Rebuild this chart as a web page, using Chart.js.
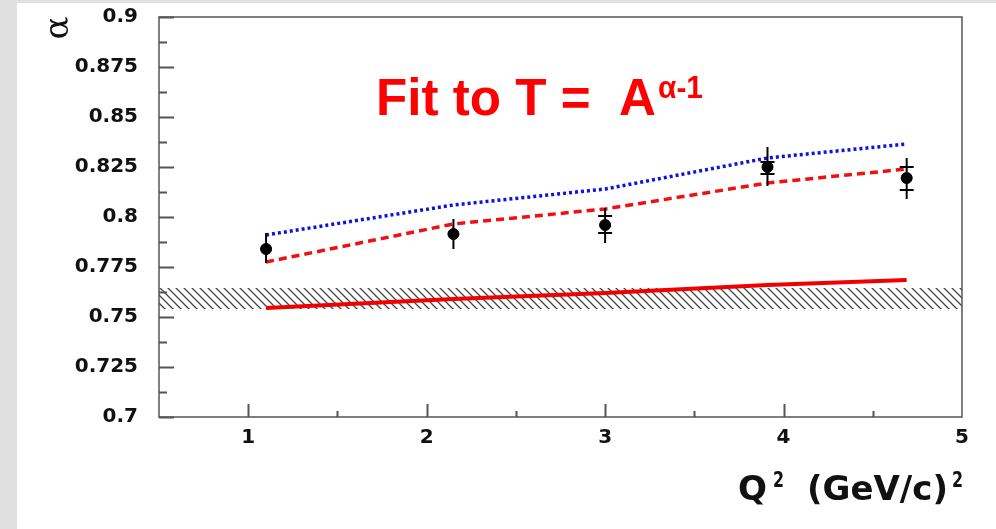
<!DOCTYPE html>
<html>
<head>
<meta charset="utf-8">
<script src="https://cdn.jsdelivr.net/npm/chart.js@4"></script>
<style>
  body { margin: 0; background: #fff; }
  #wrap { width: 996px; height: 529px; }
</style>
</head>
<body>
<div id="wrap"><canvas id="myChart" width="996" height="529"></canvas></div>
<script>
// Q^2 values (GeV/c)^2
const qsq = [1.1, 2.15, 3.0, 3.91, 4.69]
// measured alpha with stat errors
const alphaVals = [0.784, 0.7915, 0.796, 0.825, 0.8195]
const errLow = [0.777, 0.784, 0.787, 0.8155, 0.809]
const errHigh = [0.792, 0.799, 0.8045, 0.835, 0.8295]
// systematic markers (small caps)
const sysLow = [null, null, 0.792, 0.8215, 0.8135]
const sysHigh = [null, null, 0.8005, 0.8275, 0.825]
// model curves
const blueDotted = [0.791, 0.806, 0.814, 0.8295, 0.8365]
const redDashed = [0.7775, 0.7965, 0.804, 0.817, 0.824]
const redSolid = [0.7545, 0.759, 0.762, 0.766, 0.7685]
// hatched band
const bandX = [0.5, 5]
const bandHigh = [0.7645, 0.7645]
const bandLow = [0.754, 0.754]

const yTicks = [0.7, 0.725, 0.75, 0.775, 0.8, 0.825, 0.85, 0.875, 0.9]
const xTicks = [1, 2, 3, 4, 5]

const toXY = (xs, ys) => xs.map((x, i) => ({ x, y: ys[i] }))

// hatch pattern
const pc = document.createElement('canvas')
pc.width = 8
pc.height = 8
const pctx = pc.getContext('2d')
pctx.strokeStyle = '#444'
pctx.lineWidth = 1.3
pctx.beginPath()
pctx.moveTo(-1, -1); pctx.lineTo(9, 9)
pctx.moveTo(-1, 7); pctx.lineTo(1, 9)
pctx.moveTo(7, -1); pctx.lineTo(9, 1)
pctx.stroke()
const hatch = pctx.createPattern(pc, 'repeat')

const ctx = document.getElementById('myChart')

// draw text stretched to a given box width
function fitText(c, txt, x, y, font, w, sy) {
  c.save()
  c.font = font
  const m = c.measureText(txt).width
  c.translate(x, y)
  c.scale(w / m, sy)
  c.fillText(txt, 0, 0)
  c.restore()
}

function noPad(scale) {
  scale.paddingTop = 0
  scale.paddingBottom = 0
  scale.paddingLeft = 0
  scale.paddingRight = 0
}

const background = {
  id: 'background',
  beforeDraw(chart) {
    const c = chart.ctx
    c.save()
    c.fillStyle = '#fff'
    c.fillRect(0, 0, chart.width, chart.height)
    c.fillStyle = '#e0e0e0'
    c.fillRect(0, 0, 17, chart.height)
    c.fillRect(0, 0, chart.width, 3)
    c.restore()
  }
}

const frame = {
  id: 'frame',
  afterDatasetsDraw(chart) {
    const c = chart.ctx
    const a = chart.chartArea
    const xs = chart.scales.x
    const ys = chart.scales.y
    c.save()

    // error bars
    c.strokeStyle = '#000'
    c.lineWidth = 2
    qsq.forEach((q, i) => {
      const px = xs.getPixelForValue(q)
      c.beginPath()
      c.moveTo(px, ys.getPixelForValue(errLow[i]))
      c.lineTo(px, ys.getPixelForValue(errHigh[i]))
      c.stroke()
      ;[sysLow[i], sysHigh[i]].forEach(v => {
        if (v == null) return
        const py = ys.getPixelForValue(v)
        c.beginPath()
        c.moveTo(px - 7, py)
        c.lineTo(px + 7, py)
        c.stroke()
      })
    })

    // frame
    c.strokeStyle = '#555'
    c.lineWidth = 1.5
    c.strokeRect(a.left, a.top, a.right - a.left, a.bottom - a.top)

    // inward ticks
    c.lineWidth = 2
    c.beginPath()
    for (let v = 0.7; v <= 0.9001; v += 0.0125) {
      const py = Math.round(ys.getPixelForValue(v)) + 0.5
      const major = Math.abs(v / 0.025 - Math.round(v / 0.025)) < 0.01
      c.moveTo(a.left, py)
      c.lineTo(a.left + (major ? 15 : 8), py)
    }
    for (let v = 1; v <= 4.6; v += 0.5) {
      const px = Math.round(xs.getPixelForValue(v)) + 0.5
      const major = Number.isInteger(v)
      c.moveTo(px, a.bottom)
      c.lineTo(px, a.bottom - (major ? 13 : 6))
    }
    c.stroke()

    // axis titles
    c.fillStyle = '#111'
    c.textBaseline = 'alphabetic'
    fitText(c, 'Q', 738, 500, 'bold 33px "DejaVu Sans"', 29, 1)
    fitText(c, '(GeV/c)', 807, 500, 'bold 33px "DejaVu Sans"', 141, 1)
    fitText(c, '2', 773, 487, 'bold 21px "DejaVu Sans"', 11, 1)
    fitText(c, '2', 952, 487, 'bold 21px "DejaVu Sans"', 11, 1)

    c.save()
    c.translate(59, 28)
    c.rotate(-Math.PI / 2)
    c.font = '34px "DejaVu Serif"'
    c.textAlign = 'center'
    c.textBaseline = 'middle'
    c.fillText('α', 0, 0)
    c.restore()

    // chart title
    c.fillStyle = '#ff0000'
    fitText(c, 'Fit to T =  A', 376, 115, 'bold 45px Arial, "Liberation Sans", sans-serif', 280, 1.14)
    fitText(c, 'α-1', 658, 98, 'bold 27px Arial, "Liberation Sans", sans-serif', 45, 1.14)

    c.restore()
  }
}

new Chart(ctx, {
  type: 'scatter',
  data: {
    datasets: [
      {
        data: toXY(bandX, bandHigh),
        showLine: true,
        borderWidth: 0,
        pointRadius: 0,
        backgroundColor: hatch,
        fill: '+1',
        order: 5
      },
      {
        data: toXY(bandX, bandLow),
        showLine: true,
        borderWidth: 0,
        pointRadius: 0,
        fill: false,
        order: 5
      },
      {
        data: toXY(qsq, redSolid),
        showLine: true,
        borderColor: '#f00000',
        borderWidth: 4,
        pointRadius: 0,
        order: 3
      },
      {
        data: toXY(qsq, redDashed),
        showLine: true,
        borderColor: '#f01010',
        borderWidth: 3.5,
        borderDash: [8, 5],
        pointRadius: 0,
        order: 3
      },
      {
        data: toXY(qsq, blueDotted),
        showLine: true,
        borderColor: '#1010e0',
        borderWidth: 3.5,
        borderDash: [3, 3],
        pointRadius: 0,
        order: 3
      },
      {
        data: toXY(qsq, alphaVals),
        showLine: false,
        pointRadius: 5.5,
        pointBackgroundColor: '#000',
        pointBorderColor: '#000',
        order: 1
      }
    ]
  },
  options: {
    responsive: false,
    animation: false,
    layout: { padding: { left: 0, top: 17, right: 34, bottom: 0 } },
    plugins: {
      legend: { display: false },
      tooltip: { enabled: false }
    },
    scales: {
      x: {
        type: 'linear',
        min: 0.5,
        max: 5,
        afterFit(scale) { scale.height = 112; noPad(scale) },
        afterBuildTicks(scale) { scale.ticks = xTicks.map(v => ({ value: v })) },
        grid: { display: false, drawTicks: false },
        border: { display: false },
        ticks: {
          padding: 9,
          color: '#111',
          font: { family: 'DejaVu Sans', weight: 'bold', size: 20 },
          callback: v => String(v)
        }
      },
      y: {
        type: 'linear',
        min: 0.7,
        max: 0.9,
        afterFit(scale) { scale.width = 159; noPad(scale) },
        afterBuildTicks(scale) { scale.ticks = yTicks.map(v => ({ value: v })) },
        grid: { display: false, drawTicks: false },
        border: { display: false },
        ticks: {
          padding: 21,
          color: '#111',
          font: { family: 'DejaVu Sans', weight: 'bold', size: 20 },
          callback: v => String(Number(v.toFixed(3)))
        }
      }
    }
  },
  plugins: [background, frame]
})
</script>
</body>
</html>
